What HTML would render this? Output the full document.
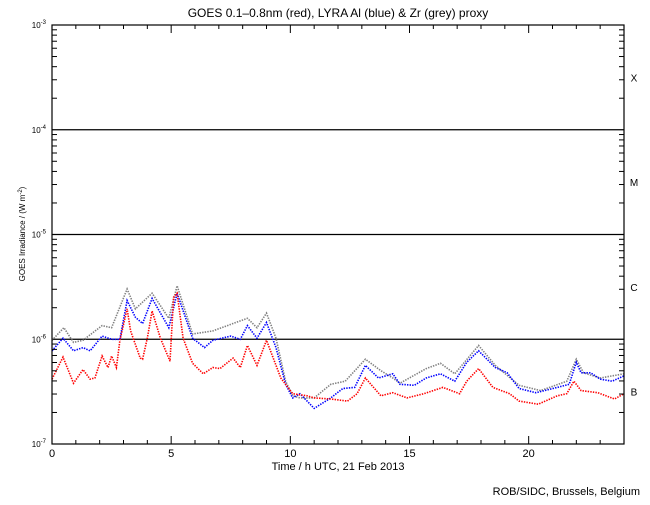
<!DOCTYPE html>
<html><head><meta charset="utf-8"><style>
body{margin:0;background:#fff;}
svg text{font-family:"Liberation Sans",sans-serif;}
</style></head><body>
<svg id="chart" width="650" height="500" viewBox="0 0 650 500">
<rect width="650" height="500" fill="#fff"/>
<text x="338" y="17" font-size="12" text-anchor="middle">GOES 0.1–0.8nm (red), LYRA Al (blue) &amp; Zr (grey) proxy</text>
<text x="338" y="470" font-size="11" text-anchor="middle">Time / h UTC, 21 Feb 2013</text>
<text x="640" y="495" font-size="11" text-anchor="end">ROB/SIDC, Brussels, Belgium</text>
<text transform="translate(25,234) rotate(-90)" font-size="8" text-anchor="middle">GOES Irradiance / (W m<tspan dy="-3" font-size="6">-2</tspan><tspan dy="3">)</tspan></text>
<g id="grid"></g><g id="series"></g><g id="axes"></g>
</svg>
<script>
const hoursRed=[0,0.46,0.9,1.3,1.6,1.8,2.1,2.35,2.5,2.7,2.85,3.15,3.3,3.7,3.8,4.0,4.2,4.55,4.95,5.1,5.25,5.5,5.9,6.35,6.75,7.05,7.6,7.9,8.2,8.6,9.0,9.6,10.1,10.7,11.0,11.7,12.4,12.8,13.15,13.8,14.3,14.9,15.6,16.4,17.1,17.4,17.9,18.5,19.2,19.6,20.4,21.2,21.6,21.9,22.2,22.9,23.6,24];
const logRed=[-6.38,-6.17,-6.42,-6.29,-6.38,-6.37,-6.16,-6.27,-6.16,-6.27,-6.01,-5.71,-5.92,-6.18,-6.19,-5.99,-5.73,-5.99,-6.21,-5.60,-5.56,-5.99,-6.23,-6.33,-6.27,-6.28,-6.18,-6.27,-6.06,-6.25,-6.01,-6.37,-6.52,-6.54,-6.56,-6.57,-6.59,-6.52,-6.37,-6.54,-6.51,-6.56,-6.52,-6.46,-6.52,-6.40,-6.28,-6.46,-6.52,-6.59,-6.62,-6.54,-6.52,-6.40,-6.49,-6.51,-6.57,-6.52];
const hoursBlue=[0,0.46,0.9,1.3,1.6,2.1,2.5,2.85,3.15,3.5,3.8,4.2,4.9,5.25,5.9,6.4,6.75,7.5,7.9,8.2,8.6,9.0,9.4,9.8,10.1,10.4,11,11.7,12.2,12.7,13.15,13.7,14.3,14.6,15.2,15.7,16.3,16.9,17.4,17.9,18.6,19.1,19.6,20.3,21.2,21.7,22.0,22.2,22.6,23,23.5,24];
const logBlue=[-6.11,-5.99,-6.11,-6.08,-6.11,-5.97,-6.00,-6.00,-5.63,-5.79,-5.85,-5.61,-5.89,-5.56,-5.99,-6.08,-6.01,-5.97,-6.00,-5.87,-5.99,-5.84,-6.08,-6.43,-6.56,-6.52,-6.66,-6.56,-6.47,-6.46,-6.25,-6.37,-6.33,-6.43,-6.44,-6.37,-6.33,-6.40,-6.22,-6.11,-6.27,-6.32,-6.47,-6.51,-6.46,-6.43,-6.22,-6.32,-6.32,-6.38,-6.40,-6.35];
const hoursGrey=[0,0.5,0.9,1.3,2.1,2.5,3.15,3.5,4.2,4.9,5.25,5.9,6.75,7.6,8.2,8.6,9.0,9.4,9.8,10.1,10.4,11,11.7,12.3,13.15,13.8,14.3,14.6,15.7,16.3,16.9,17.9,18.6,19.6,20.5,21.6,22.0,22.3,23,24];
const logGrey=[-6.01,-5.89,-6.03,-6.01,-5.87,-5.89,-5.52,-5.71,-5.56,-5.80,-5.49,-5.95,-5.92,-5.85,-5.80,-5.89,-5.75,-5.99,-6.40,-6.54,-6.56,-6.56,-6.43,-6.40,-6.19,-6.30,-6.37,-6.42,-6.28,-6.23,-6.33,-6.06,-6.25,-6.44,-6.49,-6.40,-6.19,-6.32,-6.37,-6.33];
const xTicks=[0,5,10,15,20];
const yDecades=[-7,-6,-5,-4,-3];
const classLabels=["B","C","M","X"];

const NS="http://www.w3.org/2000/svg";
const X0=52,X1=624,Y0=444,Y1=25;
const xs=h=>X0+h/24*(X1-X0);
const ys=l=>Y0-(l+7)/4*(Y0-Y1);
function mk(t,a,p){const e=document.createElementNS(NS,t);for(const k in a)e.setAttribute(k,a[k]);p.appendChild(e);return e;}
const grid=document.getElementById('grid'),ser=document.getElementById('series'),ax=document.getElementById('axes');

[-6,-5,-4].forEach(d=>{
  const l=mk('line',{x1:X0,x2:X1,y1:ys(d),y2:ys(d),stroke:'#000','stroke-width':1.2},grid);
  
  
});
classLabels.forEach((c,i)=>{
  const t=mk('text',{x:634,y:ys(-6.5+i)+4,'font-size':10,'text-anchor':'middle'},grid);
  t.textContent=c;
  
  
});

function series(hs,ls,color,name){
  const pts=hs.map((h,i)=>xs(h).toFixed(1)+','+ys(ls[i]).toFixed(1)).join(' ');
  const p=mk('polyline',{points:pts,fill:'none',stroke:color,'stroke-width':1.6,'stroke-dasharray':'1.4 1.2'},ser);
  
  
}
series(hoursGrey,logGrey,'#808080','series-zr-grey');
series(hoursBlue,logBlue,'#0000ff','series-al-blue');
series(hoursRed,logRed,'#ff0000','series-goes-red');

const fr=mk('rect',{x:X0,y:Y1,width:X1-X0,height:Y0-Y1,fill:'none',stroke:'#000','stroke-width':1.2},ax);


for(let h=0;h<=24;h++){
  const len=h%5===0?8:4,x=xs(h);
  mk('line',{x1:x,x2:x,y1:Y0,y2:Y0-len,stroke:'#000'},ax);
  mk('line',{x1:x,x2:x,y1:Y1,y2:Y1+len,stroke:'#000'},ax);
}
xTicks.forEach(h=>{
  const t=mk('text',{x:xs(h),y:Y0+13,'font-size':11,'text-anchor':'middle'},ax);
  t.textContent=h;
  
  
});
for(let d=-7;d<-3;d++){
  for(let m=2;m<=9;m++){
    const y=ys(d+Math.log10(m));
    mk('line',{x1:X0,x2:X0+5,y1:y,y2:y,stroke:'#000'},ax);
    mk('line',{x1:X1,x2:X1-5,y1:y,y2:y,stroke:'#000'},ax);
  }
}
yDecades.forEach(d=>{
  const t=mk('text',{x:46,y:ys(d)+3,'font-size':8,'text-anchor':'end'},ax);
  t.innerHTML='10<tspan dy="-4" font-size="6">'+d+'</tspan>';
  
  
});
</script>
</body></html>
